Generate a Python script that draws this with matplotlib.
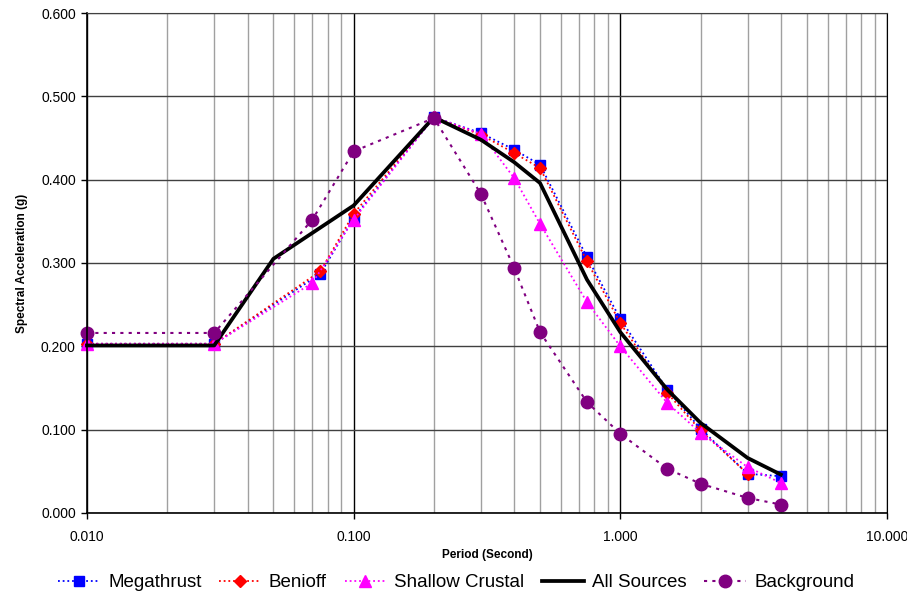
import matplotlib
matplotlib.use("Agg")
import matplotlib.pyplot as plt
from matplotlib.ticker import FixedLocator, FormatStrFormatter, LogLocator, NullFormatter

plt.rcParams['font.family'] = ['Liberation Sans', 'DejaVu Sans']

# spectral periods (s)
per_mega = [0.01, 0.03, 0.075, 0.1, 0.2, 0.3, 0.4, 0.5, 0.75, 1.0, 1.5, 2.0, 3.0, 4.0]
per_ben = [0.01, 0.03, 0.075, 0.1, 0.2, 0.3, 0.4, 0.5, 0.75, 1.0, 1.5, 2.0, 3.0]
per_shal = [0.01, 0.03, 0.07, 0.1, 0.2, 0.3, 0.4, 0.5, 0.75, 1.0, 1.5, 2.0, 3.0, 4.0]
per_all = [0.01, 0.03, 0.05, 0.1, 0.2, 0.3, 0.4, 0.5, 0.75, 1.0, 1.5, 2.0, 3.0, 4.0]
per_bg = [0.01, 0.03, 0.07, 0.1, 0.2, 0.3, 0.4, 0.5, 0.75, 1.0, 1.5, 2.0, 3.0, 4.0]

# spectral acceleration (g)
sa_mega = [0.203, 0.203, 0.287, 0.354, 0.475, 0.456, 0.436, 0.418, 0.307, 0.233, 0.148, 0.101, 0.047, 0.044]
sa_ben = [0.203, 0.203, 0.290, 0.359, 0.475, 0.454, 0.432, 0.414, 0.302, 0.228, 0.144, 0.099, 0.047]
sa_shal = [0.203, 0.203, 0.276, 0.352, 0.475, 0.455, 0.402, 0.347, 0.253, 0.200, 0.132, 0.096, 0.055, 0.036]
sa_all = [0.201, 0.201, 0.305, 0.369, 0.475, 0.448, 0.421, 0.396, 0.280, 0.217, 0.148, 0.108, 0.066, 0.046]
sa_bg = [0.216, 0.216, 0.352, 0.434, 0.474, 0.383, 0.294, 0.217, 0.133, 0.095, 0.053, 0.035, 0.018, 0.010]

fig = plt.figure(figsize=(9.07, 5.95), dpi=100)
ax = fig.add_axes([0.0959, 0.138, 0.882, 0.840])

dot = (0, (1, 1.6))
ax.plot(per_mega, sa_mega, color='#0000FF', ls=dot, lw=1.3, marker='s', ms=7, label='Megathrust', clip_on=False)
ax.plot(per_ben, sa_ben, color='#FF0000', ls=dot, lw=1.3, marker='D', ms=6, label='Benioff', clip_on=False)
ax.plot(per_shal, sa_shal, color='#FF00FF', ls=dot, lw=1.3, marker='^', ms=9, label='Shallow Crustal', clip_on=False)
ax.plot(per_all, sa_all, color='black', ls='-', lw=2.7, label='All Sources', clip_on=False)
ax.plot(per_bg, sa_bg, color='#800080', ls=(0, (1.5, 2.5)), lw=1.5, marker='o', ms=9, label='Background', clip_on=False)

ax.set_xscale('log')
ax.set_xlim(0.01, 10)
ax.set_ylim(0, 0.6)
ax.yaxis.set_major_locator(FixedLocator([0, 0.1, 0.2, 0.3, 0.4, 0.5, 0.6]))
ax.yaxis.set_major_formatter(FormatStrFormatter('%.3f'))
ax.xaxis.set_major_locator(FixedLocator([0.01, 0.1, 1, 10]))
ax.xaxis.set_major_formatter(FormatStrFormatter('%.3f'))
ax.xaxis.set_minor_locator(LogLocator(base=10, subs=range(2, 10)))
ax.xaxis.set_minor_formatter(NullFormatter())

ax.grid(True, which='major', axis='y', color='#404040', lw=1.0)
ax.grid(True, which='major', axis='x', color='black', lw=1.0)
ax.grid(True, which='minor', axis='x', color='#a0a0a0', lw=1.0)
ax.set_axisbelow(True)

ax.tick_params(axis='both', which='major', direction='out', length=4, width=1,
               labelsize=10, color='black', pad=4)
ax.tick_params(axis='x', which='minor', length=0)
ax.tick_params(axis='x', which='major', pad=8)
for s in ['left', 'bottom']:
    ax.spines[s].set_color('black')
    ax.spines[s].set_linewidth(1.2)
ax.spines['top'].set_color('#404040')
ax.spines['right'].set_color('black')

ax.set_xlabel('Period (Second)', fontsize=8.5, fontweight='bold', labelpad=4)
ax.set_ylabel('Spectral Acceleration (g)', fontsize=8.5, fontweight='bold', labelpad=9)

fig.legend(loc='center', bbox_to_anchor=(0.503, 0.021), ncol=5, frameon=False,
           fontsize=13.5, handlelength=2.2, handletextpad=0.45, columnspacing=0.95,
           borderpad=0)

fig.savefig('out.png', dpi=100)
